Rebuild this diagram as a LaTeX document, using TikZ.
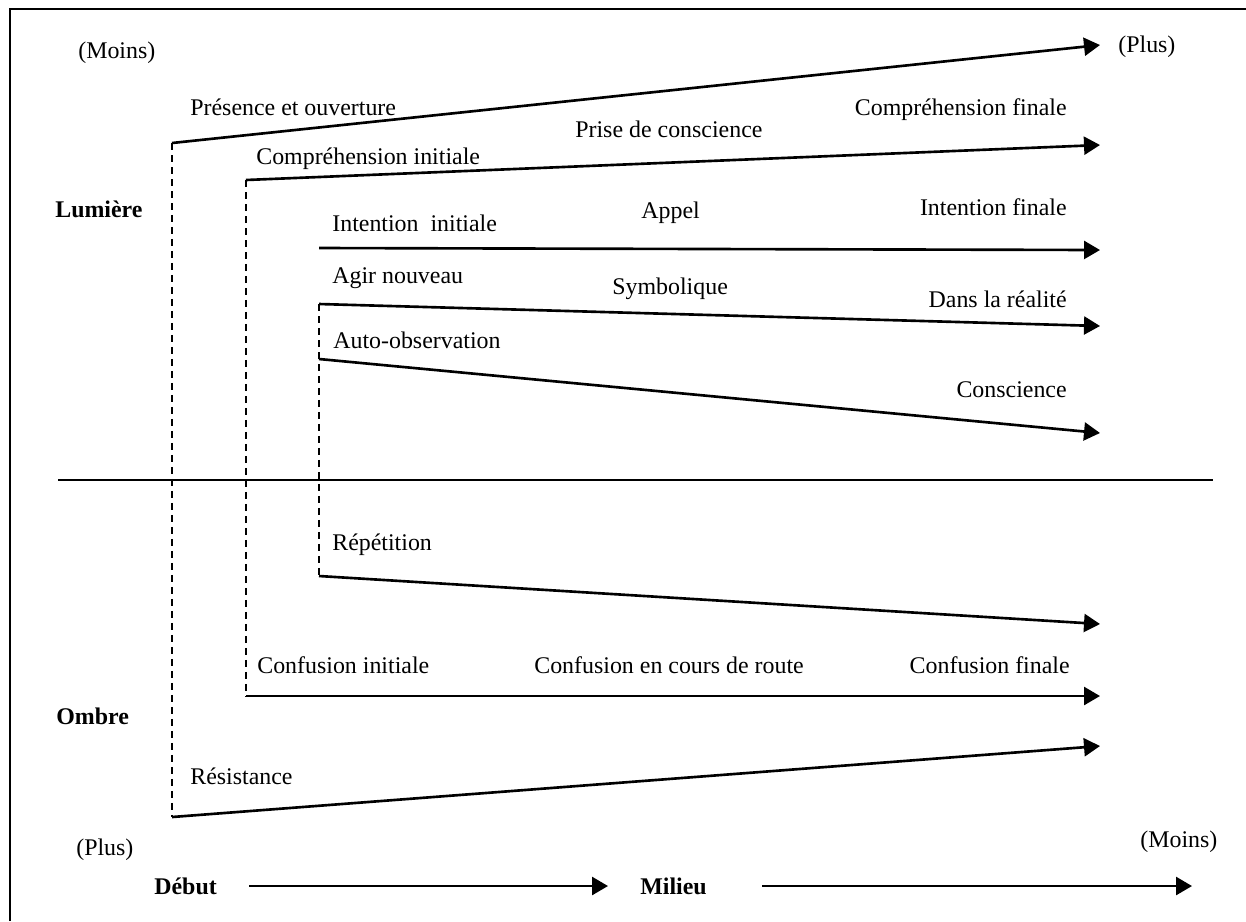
\documentclass[tikz,border=0pt]{standalone}
\usepackage{fontspec}
\setmainfont{Liberation Serif}
\usetikzlibrary{arrows.meta}

\begin{document}
\begin{tikzpicture}[x=0.02cm, y=-0.02cm,
  flow/.style={line width=1.5pt, -{Triangle[length=0.32cm, width=0.36cm]}},
  guide/.style={line width=1.4pt, dash pattern=on 0.14cm off 0.1cm},
  lbl/.style={inner sep=0pt, font=\fontsize{13.6}{16}\selectfont},
  head/.style={inner sep=0pt, font=\fontsize{13.6}{16}\selectfont\bfseries}]

\useasboundingbox (0,0) rectangle (1246,921);

% Frame
\draw[line width=1.2pt] (10,921) -- (10,9) -- (1246,9);

% Separator
\coordinate (sepL) at (58,480);
\coordinate (sepR) at (1213,480);
\draw[line width=1.5pt] (sepL) -- (sepR);

% Start and end points
\coordinate (a1) at (172,143); \coordinate (b1) at (1100,45);
\coordinate (a2) at (246,180); \coordinate (b2) at (1100,145);
\coordinate (a3) at (319,248); \coordinate (b3) at (1100,250);
\coordinate (a4) at (319,304); \coordinate (b4) at (1100,326);
\coordinate (a5) at (319,359); \coordinate (b5) at (1100,433);
\coordinate (a6) at (319,576); \coordinate (b6) at (1100,624);
\coordinate (a7) at (246,696); \coordinate (b7) at (1100,696);
\coordinate (a8) at (172,817); \coordinate (b8) at (1100,746);

% Dashed guides
\draw[guide] (a1) -- (a8);
\draw[guide] (a2) -- (a7);
\draw[guide] (a4) -- (a6);

% Arrows
\foreach \i in {1,...,8}
  \draw[flow] (a\i) -- (b\i);

% Labels
\node[lbl, anchor=west] (moinsT) at (78,53) {(Moins)};
\node[lbl, anchor=west] (plusT) at (1118,47) {(Plus)};
\node[lbl, anchor=west] (presence) at (190,107) {Présence et ouverture};
\node[lbl, anchor=west] (compInit) at (256,159) {Compréhension initiale};
\node[lbl, anchor=west] (prise) at (575,129) {Prise de conscience};
\node[lbl, anchor=east] (compFin) at (1067,110) {Compréhension finale};
\node[head, anchor=west] (lumiere) at (55,209) {Lumière};
\node[lbl, anchor=west] (intInit) at (332,223) {Intention\ \ initiale};
\node[lbl, anchor=west] (appel) at (641,213) {Appel};
\node[lbl, anchor=east] (intFin) at (1067,207) {Intention finale};
\node[lbl, anchor=west] (agir) at (332,278) {Agir nouveau};
\node[lbl, anchor=west] (symb) at (612,289) {Symbolique};
\node[lbl, anchor=east] (reel) at (1067,299) {Dans la réalité};
\node[lbl, anchor=west] (auto) at (333,340) {Auto-observation};
\node[lbl, anchor=east] (consc) at (1067,390) {Conscience};
\node[lbl, anchor=west] (repet) at (332,545) {Répétition};
\node[lbl, anchor=west] (confInit) at (257,665) {Confusion initiale};
\node[lbl, anchor=west] (confRoute) at (534,665) {Confusion en cours de route};
\node[lbl, anchor=east] (confFin) at (1070,665) {Confusion finale};
\node[head, anchor=west] (ombre) at (56,716) {Ombre};
\node[lbl, anchor=west] (resist) at (190,776) {Résistance};
\node[lbl, anchor=west] (plusB) at (76,850) {(Plus)};
\node[lbl, anchor=west] (moinsB) at (1140,842) {(Moins)};

% Time axis
\node[head, anchor=west] (debut) at (154,886) {Début};
\node[head, anchor=west] (milieu) at (640,886) {Milieu};
\coordinate (fin) at (1192,886);
\draw[flow] ([xshift=0.64cm]debut.east) -- ([xshift=-0.64cm]milieu.west);
\draw[flow] ([xshift=1.1cm]milieu.east) -- (fin);

\end{tikzpicture}
\end{document}
